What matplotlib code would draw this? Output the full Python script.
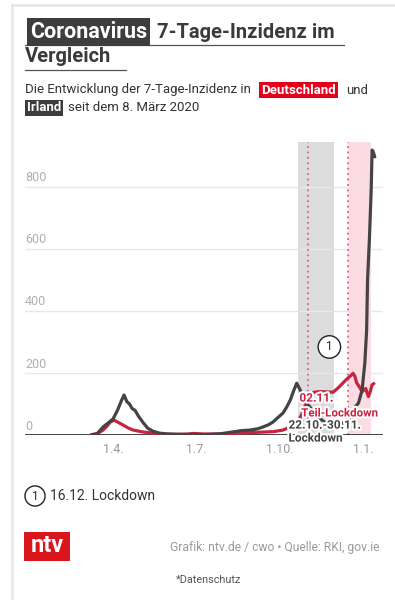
import pandas as pd
import matplotlib.pyplot as plt
import matplotlib.patheffects as pe
from matplotlib.patches import Rectangle
from matplotlib.lines import Line2D

plt.rcParams['font.family'] = ['Roboto', 'DejaVu Sans']

# --- Data (7-Tage-Inzidenz) ---
de_dates = ['2020-03-08', '2020-03-15', '2020-03-21', '2020-03-25', '2020-03-29', '2020-04-02',
            '2020-04-07', '2020-04-12', '2020-04-18', '2020-04-23', '2020-05-03', '2020-05-14',
            '2020-05-28', '2020-06-10', '2020-06-22', '2020-06-28', '2020-07-10', '2020-07-25',
            '2020-08-10', '2020-08-25', '2020-09-10', '2020-09-25', '2020-10-05', '2020-10-13',
            '2020-10-18', '2020-10-22', '2020-10-26', '2020-10-30', '2020-11-03', '2020-11-08',
            '2020-11-15', '2020-11-22', '2020-11-29', '2020-12-04', '2020-12-09', '2020-12-14',
            '2020-12-18', '2020-12-21', '2020-12-23', '2020-12-25', '2020-12-28', '2020-12-31',
            '2021-01-02', '2021-01-04', '2021-01-06', '2021-01-07', '2021-01-09', '2021-01-11',
            '2021-01-13']
de_values = [1, 5, 16, 28, 42, 48,
             40, 32, 22, 16, 10, 6,
             3, 2, 3, 5, 3, 3,
             5, 7, 9, 11, 16, 26,
             34, 45, 70, 100, 125, 138,
             140, 139, 138, 150, 165, 180,
             190, 199, 190, 168, 155, 140,
             145, 150, 132, 124, 140, 162,
             166]

ie_dates = ['2020-03-08', '2020-03-14', '2020-03-21', '2020-03-27', '2020-04-01', '2020-04-06',
            '2020-04-10', '2020-04-13', '2020-04-16', '2020-04-19', '2020-04-22', '2020-04-25',
            '2020-04-29', '2020-05-04', '2020-05-09', '2020-05-15', '2020-05-22', '2020-06-01',
            '2020-06-15', '2020-07-01', '2020-07-15', '2020-07-28', '2020-08-11', '2020-08-20',
            '2020-08-30', '2020-09-07', '2020-09-13', '2020-09-19', '2020-09-24', '2020-09-30',
            '2020-10-05', '2020-10-09', '2020-10-13', '2020-10-17', '2020-10-20', '2020-10-23',
            '2020-10-27', '2020-11-01', '2020-11-06', '2020-11-12', '2020-11-18', '2020-11-24',
            '2020-11-30', '2020-12-06', '2020-12-12', '2020-12-17', '2020-12-20', '2020-12-23',
            '2020-12-27', '2020-12-31', '2021-01-03', '2021-01-05', '2021-01-06', '2021-01-08',
            '2021-01-10', '2021-01-11', '2021-01-12', '2021-01-14']
ie_values = [0.5, 3, 26, 40, 52, 81,
             110, 129, 108, 100, 85, 80,
             60, 40, 22, 12, 6, 3,
             2, 1.5, 2, 4, 10, 14,
             16, 20, 26, 33, 42, 58,
             71, 90, 113, 145, 167, 150,
             125, 100, 80, 60, 45, 35,
             32, 33, 42, 55, 70, 90,
             103, 145, 232, 339, 500, 629,
             790, 919, 915, 897]

y_ticks = [0, 200, 400, 600, 800]
x_ticks = ['2020-04-01', '2020-07-01', '2020-10-01', '2021-01-01']
x_tick_labels = ['1.4.', '1.7.', '1.10.', '1.1.']

lockdown_ie = ('2020-10-22', '2020-11-30')
teil_lockdown_de = '2020-11-02'
lockdown_de = ('2020-12-16', '2021-01-10')

DARK = '#444444'
RED = '#c8233f'

de_x = pd.to_datetime(de_dates)
ie_x = pd.to_datetime(ie_dates)

fig = plt.figure(figsize=(3.95, 6.0), dpi=100)

# card border
fig.add_artist(Line2D([12 / 395, 12 / 395], [0, 1 - 5 / 600], color='#e6e6e6', lw=1.8))
fig.add_artist(Line2D([12 / 395, 1], [1 - 5 / 600, 1 - 5 / 600], color='#e6e6e6', lw=1.8))

ax = fig.add_axes([25 / 395, 1 - 435 / 600, 358 / 395, 293 / 600])
ax.set_xlim(pd.Timestamp('2019-12-26'), pd.Timestamp('2021-01-23'))
ax.set_ylim(0, 945)

# shaded lockdown periods
ax.axvspan(pd.Timestamp(lockdown_ie[0]), pd.Timestamp(lockdown_ie[1]), color='#dcdcdc', lw=0, zorder=0)
ax.axvspan(pd.Timestamp(lockdown_de[0]), pd.Timestamp(lockdown_de[1]), color='#fadce2', lw=0, zorder=0)
for d in [teil_lockdown_de, lockdown_de[0]]:
    ax.axvline(pd.Timestamp(d), color='#d9637d', lw=1.3, ls=(0, (1, 2)), zorder=1)

# gridlines + labels sitting above them
for v in y_ticks[1:]:
    ax.axhline(v, color='#e8e8e8', lw=1, zorder=0.5)
for v in y_ticks:
    ax.text(0, v + 8, str(v), transform=ax.get_yaxis_transform(), ha='left', va='bottom',
            fontsize=9, color='#b0b0b0')
ax.axhline(0, color='#222222', lw=1.2, zorder=2)

# lines
ax.plot(de_x, de_values, color=RED, lw=2.3, solid_capstyle='round', solid_joinstyle='round', zorder=3)
ax.plot(ie_x, ie_values, color=DARK, lw=2.3, solid_capstyle='round', solid_joinstyle='round', zorder=4)

# annotations
stroke = [pe.withStroke(linewidth=3, foreground='white')]
ax.text(pd.Timestamp('2020-10-23'), 119, '02.11.', color=RED, fontsize=8.5, fontweight='bold',
        va='center', ha='left', zorder=6, path_effects=stroke)
ax.text(pd.Timestamp('2020-10-25'), 71, 'Teil-Lockdown', color=RED, fontsize=8.3, fontweight='bold',
        va='center', ha='left', zorder=6, path_effects=stroke)
ax.text(pd.Timestamp('2020-10-11'), 32, '22.10.-30.11.', color=DARK, fontsize=8.5, fontweight='bold',
        va='center', ha='left', zorder=6, path_effects=stroke)
ax.text(pd.Timestamp('2020-10-11'), -10, 'Lockdown', color=DARK, fontsize=8.5, fontweight='bold',
        va='center', ha='left', zorder=6, path_effects=stroke, clip_on=False)

# circled "1"
ax.text(pd.Timestamp('2020-11-25'), 284, '1', ha='center', va='center', fontsize=8.5, color='#222222',
        zorder=6, bbox=dict(boxstyle='circle,pad=0.4', fc='white', ec='#222222', lw=1))

# axes styling
ax.set_yticks([])
ax.set_xticks(pd.to_datetime(x_ticks))
ax.set_xticklabels(x_tick_labels, fontsize=9, color='#999999')
ax.tick_params(axis='x', length=0, pad=6)
for s in ax.spines.values():
    s.set_visible(False)
ax.patch.set_alpha(0)

# --- Title ---
fig.text(30 / 395, 1 - 32 / 600, 'Coronavirus', fontsize=15.5, fontweight='bold', color='white',
         va='center', ha='left',
         bbox=dict(boxstyle='square,pad=0.15', fc='#3d3d3d', ec='none'))
fig.text(157 / 395, 1 - 32 / 600, '7-Tage-Inzidenz im', fontsize=14.5, fontweight='bold',
         color='#3a3a3a', va='center', ha='left')
fig.text(25 / 395, 1 - 56 / 600, 'Vergleich', fontsize=14.5, fontweight='bold',
         color='#3a3a3a', va='center', ha='left')
fig.add_artist(Line2D([25 / 395, 344 / 395], [1 - 44.5 / 600] * 2, color='#555555', lw=0.9))
fig.add_artist(Line2D([25 / 395, 126 / 395], [1 - 70 / 600] * 2, color='#555555', lw=0.9))

# subtitle
fig.text(25 / 395, 1 - 90 / 600, 'Die Entwicklung der 7-Tage-Inzidenz in', fontsize=9.5,
         color='#333333', va='center', ha='left')
fig.text(261 / 395, 1 - 90 / 600, 'Deutschland', fontsize=9.5, fontweight='bold', color='white',
         va='center', ha='left', bbox=dict(boxstyle='square,pad=0.15', fc='#e2001a', ec='none'))
fig.text(346 / 395, 1 - 90 / 600, 'und', fontsize=9.5, color='#333333', va='center', ha='left')
fig.text(27 / 395, 1 - 108 / 600, 'Irland', fontsize=9.5, fontweight='bold', color='white',
         va='center', ha='left', bbox=dict(boxstyle='square,pad=0.15', fc='#3d3d3d', ec='none'))
fig.text(68 / 395, 1 - 108 / 600, 'seit dem 8. März 2020', fontsize=9.5, color='#333333',
         va='center', ha='left')

# --- Footer ---
fig.text(35 / 395, 1 - 496 / 600, '1', fontsize=8.5, color='#222222', ha='center', va='center',
         bbox=dict(boxstyle='circle,pad=0.3', fc='white', ec='#222222', lw=1))
fig.text(50 / 395, 1 - 496 / 600, '16.12. Lockdown', fontsize=10, color='#333333', va='center', ha='left')

fig.add_artist(Rectangle((24 / 395, 1 - 561 / 600), 46 / 395, 29 / 600, transform=fig.transFigure,
                         fc='#d9161c', ec='none'))
fig.text(47 / 395, 1 - 546 / 600, 'ntv', fontsize=17, fontweight='bold', color='white',
         ha='center', va='center')
fig.text(170 / 395, 1 - 548 / 600, 'Grafik: ntv.de / cwo • Quelle: RKI, gov.ie', fontsize=8.7,
         color='#9a9a9a', va='center', ha='left')
fig.text(176 / 395, 1 - 580 / 600, '*Datenschutz', fontsize=7.8, color='#555555', va='center', ha='left')

fig.savefig('out.png', dpi=100)
